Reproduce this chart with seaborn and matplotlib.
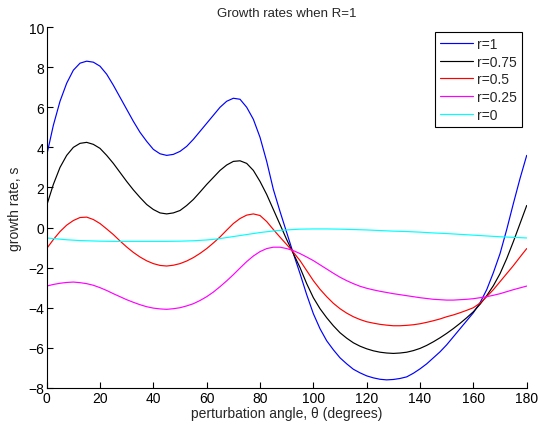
import matplotlib
matplotlib.use("Agg")
import matplotlib.pyplot as plt
import seaborn as sns
import pandas as pd

# perturbation angle (degrees), 2.5 degree steps
theta = [i * 2.5 for i in range(73)]

# growth rates, one list per r value
s_r1 = [3.6, 5.1, 6.3, 7.2, 7.85, 8.2, 8.3, 8.25, 8.05, 7.65,
        7.1, 6.5, 5.9, 5.3, 4.75, 4.3, 3.9, 3.68, 3.6, 3.65,
        3.8, 4.05, 4.4, 4.8, 5.2, 5.6, 6.0, 6.3, 6.45, 6.4,
        6.0, 5.4, 4.5, 3.3, 1.9, 0.8, -0.25, -1.3, -2.3, -3.35,
        -4.3, -5.05, -5.65, -6.1, -6.5, -6.8, -7.07, -7.25, -7.4, -7.5,
        -7.57, -7.6, -7.58, -7.53, -7.45, -7.27, -7.05, -6.8, -6.5, -6.2,
        -5.85, -5.45, -5.05, -4.65, -4.25, -3.75, -3.1, -2.25, -1.3, -0.1,
        1.2, 2.45, 3.6]
s_r075 = [1.1, 2.15, 3.0, 3.6, 4.0, 4.2, 4.25, 4.15, 3.95, 3.6,
          3.2, 2.75, 2.3, 1.88, 1.5, 1.15, 0.9, 0.73, 0.68, 0.73,
          0.85, 1.1, 1.4, 1.77, 2.15, 2.5, 2.85, 3.12, 3.3, 3.33,
          3.2, 2.85, 2.3, 1.65, 0.9, 0.15, -0.6, -1.3, -2.0, -2.8,
          -3.5, -4.05, -4.5, -4.9, -5.25, -5.52, -5.75, -5.92, -6.05, -6.15,
          -6.22, -6.26, -6.28, -6.26, -6.22, -6.14, -6.03, -5.88, -5.7, -5.5,
          -5.28, -5.04, -4.78, -4.5, -4.2, -3.83, -3.4, -2.9, -2.3, -1.55,
          -0.7, 0.2, 1.1]
s_r05 = [-1.05, -0.6, -0.2, 0.12, 0.35, 0.5, 0.52, 0.4, 0.2, -0.07,
         -0.35, -0.67, -0.97, -1.24, -1.47, -1.66, -1.8, -1.89, -1.92, -1.88,
         -1.8, -1.67, -1.5, -1.29, -1.05, -0.77, -0.47, -0.13, 0.2, 0.45,
         0.62, 0.68, 0.6, 0.3, -0.1, -0.48, -0.85, -1.23, -1.65, -2.15,
         -2.65, -3.08, -3.45, -3.78, -4.05, -4.27, -4.45, -4.59, -4.7, -4.77,
         -4.83, -4.87, -4.9, -4.9, -4.88, -4.85, -4.8, -4.73, -4.65, -4.56,
         -4.45, -4.36, -4.25, -4.13, -4.0, -3.77, -3.45, -3.1, -2.7, -2.3,
         -1.9, -1.47, -1.05]
s_r025 = [-2.92, -2.84, -2.78, -2.74, -2.72, -2.75, -2.8, -2.88, -3.0, -3.14,
          -3.3, -3.45, -3.6, -3.73, -3.85, -3.95, -4.02, -4.06, -4.08, -4.05,
          -4.0, -3.91, -3.8, -3.64, -3.45, -3.22, -2.95, -2.66, -2.35, -2.02,
          -1.7, -1.42, -1.2, -1.05, -0.98, -0.98, -1.05, -1.15, -1.3, -1.47,
          -1.65, -1.86, -2.07, -2.28, -2.48, -2.65, -2.8, -2.93, -3.03, -3.11,
          -3.18, -3.24, -3.3, -3.35, -3.4, -3.45, -3.5, -3.54, -3.58, -3.6,
          -3.62, -3.62, -3.6, -3.58, -3.55, -3.5, -3.45, -3.38, -3.3, -3.2,
          -3.1, -3.01, -2.92]
s_r0 = [-0.52, -0.55, -0.58, -0.61, -0.63, -0.65, -0.66, -0.67, -0.68, -0.685,
        -0.69, -0.69, -0.69, -0.69, -0.69, -0.69, -0.69, -0.69, -0.69, -0.685,
        -0.68, -0.67, -0.66, -0.64, -0.62, -0.59, -0.55, -0.5, -0.45, -0.4,
        -0.35, -0.3, -0.25, -0.21, -0.17, -0.14, -0.12, -0.1, -0.08, -0.075,
        -0.07, -0.07, -0.07, -0.075, -0.08, -0.09, -0.1, -0.11, -0.12, -0.135,
        -0.15, -0.165, -0.18, -0.19, -0.2, -0.215, -0.23, -0.25, -0.27, -0.285,
        -0.3, -0.32, -0.34, -0.36, -0.38, -0.4, -0.42, -0.44, -0.46, -0.475,
        -0.49, -0.505, -0.52]

labels = ["r=1", "r=0.75", "r=0.5", "r=0.25", "r=0"]
series = [s_r1, s_r075, s_r05, s_r025, s_r0]
colors = ["#0000ff", "#000000", "#ff0000", "#ff00ff", "#00ffff"]

rows = []
for lab, vals in zip(labels, series):
    for t, v in zip(theta, vals):
        rows.append({"theta": t, "s": v, "r": lab})
df = pd.DataFrame(rows)

sns.set_style("ticks")
plt.rcParams["font.family"] = ["Liberation Sans", "DejaVu Sans"]

fig = plt.figure(figsize=(5.39, 4.35), dpi=100)
ax = fig.add_axes([0.0866, 0.106, 0.8906, 0.8294])

sns.lineplot(data=df, x="theta", y="s", hue="r", hue_order=labels,
             palette=dict(zip(labels, colors)), linewidth=0.85, ax=ax, legend=True)

ax.set_xlim(0, 180)
ax.set_ylim(-8, 10)
ax.set_xticks(range(0, 181, 20))
ax.set_yticks(range(-8, 11, 2))
ax.tick_params(direction="in", length=4, width=0.8, labelsize=10, colors="black", pad=2)
for side in ["top", "right"]:
    ax.spines[side].set_visible(False)
for side in ["left", "bottom"]:
    ax.spines[side].set_linewidth(0.8)
    ax.spines[side].set_color("black")

ax.set_xlabel("perturbation angle, θ (degrees)", fontsize=10, labelpad=1)
ax.set_ylabel("growth rate, s", fontsize=10, labelpad=4)
ax.set_title("Growth rates when R=1", fontsize=9.5, pad=8)

leg = ax.legend(loc="upper right", fontsize=10, frameon=True, fancybox=False,
                edgecolor="black", framealpha=1, handlelength=2.4, handletextpad=0.3,
                borderaxespad=0.35, labelspacing=0.27, borderpad=0.35)
leg.get_frame().set_linewidth(0.8)

fig.savefig("out.png", dpi=100)
